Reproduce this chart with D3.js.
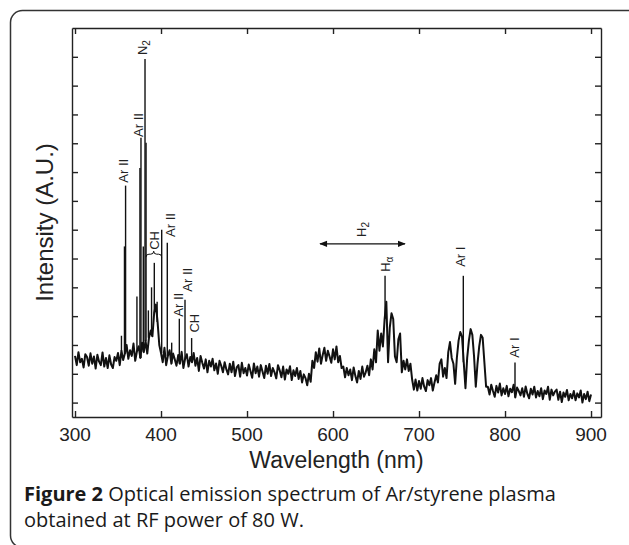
<!DOCTYPE html>
<html>
<head>
<meta charset="utf-8">
<script src="https://cdn.jsdelivr.net/npm/d3@7"></script>
<style>
  body { margin: 0; background: #fff; }
  .tick-label { font-family: "Liberation Sans", Arial, sans-serif; font-size: 19px; fill: #222; }
  .axis-title { font-family: "Liberation Sans", Arial, sans-serif; font-size: 23px; fill: #222; }
  .peak-label { font-family: "Liberation Sans", Arial, sans-serif; font-size: 13px; fill: #222; }
  .caption { font-family: "Open Sans", "Noto Sans", sans-serif; font-size: 20px; fill: #1a1a1a; }
</style>
</head>
<body>
<div id="main"></div>
<script>
// spectrum sampled every 2 nm from 300 nm (intensity, A.U.)
var startWl = 300;
var stepWl = 2;
var intensity = [
  1.62,1.30,1.75,1.40,1.52,1.22,1.68,1.58,1.28,1.71,
  1.35,1.60,1.18,1.66,1.42,1.30,1.74,1.25,1.55,1.20,
  1.64,1.32,1.20,1.58,1.45,1.72,1.30,1.80,1.48,1.70,
  2.00,1.52,1.82,1.62,2.05,1.45,1.78,1.95,1.55,2.08,
  1.75,2.15,1.70,2.25,2.50,2.30,3.10,3.40,2.80,2.00,
  1.72,1.40,1.90,1.30,1.62,1.82,1.35,1.70,1.50,1.28,
  1.65,1.35,1.76,1.20,1.52,1.68,1.25,1.58,1.40,1.72,
  1.28,1.55,1.10,1.62,1.38,1.18,1.50,1.05,1.45,1.25,
  1.52,1.12,1.36,1.00,1.45,1.28,1.05,1.40,1.15,0.98,
  1.35,1.05,1.42,0.92,1.22,1.30,0.90,1.38,1.02,1.20,
  0.94,1.32,1.10,0.86,1.36,1.02,1.25,0.90,1.30,1.08,
  0.85,1.28,1.00,1.34,0.92,1.20,1.05,0.84,1.30,1.12,
  0.88,1.25,0.80,1.15,1.00,1.26,0.78,1.12,0.92,1.20,
  0.82,1.10,0.70,0.98,0.85,0.60,1.00,0.72,1.45,1.20,
  1.75,1.42,1.88,1.35,1.65,1.90,1.45,1.80,1.60,1.38,
  1.85,1.50,1.95,1.40,1.62,1.20,1.25,0.88,1.20,0.95,
  1.15,0.78,1.22,0.92,0.70,1.10,0.82,1.25,0.90,1.05,
  1.28,0.95,1.50,1.15,1.85,1.40,2.50,1.80,2.40,1.95,
  2.90,3.50,1.40,2.60,3.10,2.90,1.60,1.40,2.20,2.40,
  1.05,1.45,1.15,1.50,1.10,1.35,0.80,0.45,0.80,0.42,
  0.75,0.48,0.85,0.55,0.40,0.78,0.60,0.85,0.42,0.70,
  0.95,0.70,1.35,1.50,0.90,1.20,0.85,1.75,2.10,1.55,
  1.35,0.65,1.55,2.15,2.45,2.30,1.40,0.50,1.55,2.15,
  2.55,2.35,1.60,0.55,1.35,1.95,2.35,2.25,1.40,0.55,
  0.55,0.28,0.62,0.40,0.20,0.58,0.35,0.66,0.25,0.50,
  0.30,0.58,0.22,0.48,0.36,0.62,0.18,0.52,0.40,0.25,
  0.50,0.20,0.56,0.30,0.15,0.48,0.28,0.55,0.18,0.40,
  0.22,0.50,0.12,0.42,0.30,0.55,0.10,0.45,0.25,0.38,
  0.45,0.10,0.38,0.02,0.35,0.20,0.44,0.08,0.30,0.15,
  0.40,0.08,0.32,0.18,0.42,0.00,0.30,0.12,0.38,0.05,
  0.28
];

// sharp emission lines
var peakWl = [354, 357.5, 358.8, 372, 375.5, 376.7, 379.4, 381.4, 382.6, 385.3, 389, 392.2, 395.5, 400.8, 407.3, 412.4, 421.3, 427.9, 435.6, 660.5, 751.5, 811.6];
var peakInt = [2.32, 5.42, 7.53, 3.68, 8.14, 9.19, 5.42, 11.92, 9.02, 3.2, 4.0, 4.85, 3.5, 6.0, 5.55, 2.08, 2.91, 3.57, 2.24, 4.40, 4.40, 1.39];

// line labels (text, subscript, wavelength, intensity at the foot of the text)
var labelText = ['Ar II', 'Ar II', 'N', 'CH', 'Ar II', 'Ar II', 'Ar II', 'CH', 'H', 'H', 'Ar I', 'Ar I'];
var labelSub = ['', '', '2', '', '', '', '', '', '2', '\u03b1', '', ''];
var labelWl = [356.4, 373.3, 379, 392, 411.6, 419.8, 430.8, 438.4, 633.7, 660.5, 748.8, 811];
var labelInt = [7.63, 9.22, 12.06, 5.3, 5.75, 2.98, 3.85, 2.43, 5.75, 4.54, 4.71, 1.56];

// CH brace and H2 band arrow
var braceWl = [382.5, 391.5, 400.8];
var braceInt = 5.15;
var arrowWl = [584.9, 683.7];
var arrowInt = 5.51;

var xTicks = [300, 400, 500, 600, 700, 800, 900];
var yTicks = d3.range(0, 13);

// layout
var svgWidth = 629;
var svgHeight = 545;
var plot = { l: 72, t: 28, w: 529, h: 389 };

var svg = d3.select('#main')
  .append('svg')
  .attr('width', svgWidth)
  .attr('height', svgHeight);

// rounded figure box
svg.append('rect')
  .attr('x', 10.5)
  .attr('y', 10.5)
  .attr('width', 640)
  .attr('height', 537)
  .attr('rx', 12)
  .attr('fill', 'none')
  .attr('stroke', '#333')
  .attr('stroke-width', 1.5);

var chartG = svg.append('g')
  .attr('transform', 'translate(' + [plot.l, plot.t] + ')');

var xScale = d3.scaleLinear()
  .domain([296.5, 911.6])
  .range([0, plot.w]);

var yScale = d3.scaleLinear()
  .domain([-0.5, 13])
  .range([plot.h, 0]);

// axes, ticks pointing inward on all four sides
chartG.append('g')
  .attr('transform', 'translate(0,' + plot.h + ')')
  .call(d3.axisBottom(xScale).tickValues(xTicks).tickSizeInner(-6).tickSizeOuter(0).tickFormat(''));
chartG.append('g')
  .call(d3.axisTop(xScale).tickValues(xTicks).tickSizeInner(-6).tickSizeOuter(0).tickFormat(''));
chartG.append('g')
  .call(d3.axisLeft(yScale).tickValues(yTicks).tickSizeInner(-6).tickSizeOuter(0).tickFormat(''));
chartG.append('g')
  .attr('transform', 'translate(' + plot.w + ',0)')
  .call(d3.axisRight(yScale).tickValues(yTicks).tickSizeInner(-6).tickSizeOuter(0).tickFormat(''));

chartG.selectAll('.domain, .tick line')
  .attr('stroke', '#222')
  .attr('stroke-width', 1.4);

// x tick labels
chartG.selectAll('.x-label')
  .data(xTicks)
  .enter()
  .append('text')
  .attr('class', 'tick-label')
  .attr('x', (d) => xScale(d))
  .attr('y', plot.h + 24)
  .attr('text-anchor', 'middle')
  .text((d) => d);

// axis titles
svg.append('text')
  .attr('class', 'axis-title')
  .attr('x', plot.l + plot.w / 2)
  .attr('y', 468)
  .attr('text-anchor', 'middle')
  .text('Wavelength (nm)');

svg.append('text')
  .attr('class', 'axis-title')
  .attr('transform', 'translate(' + [53, plot.t + plot.h / 2] + ') rotate(-90)')
  .attr('text-anchor', 'middle')
  .style('font-size', '24px')
  .text('Intensity (A.U.)');

// continuum spectrum, drawn heavy so the noise reads as a dense band
var spectrum = intensity.map((v, i) => [startWl + i * stepWl, v]);

chartG.append('path')
  .datum(spectrum)
  .attr('fill', 'none')
  .attr('stroke', '#111')
  .attr('stroke-width', 2)
  .attr('stroke-linejoin', 'round')
  .attr('d', d3.line().x((d) => xScale(d[0])).y((d) => yScale(d[1])));

// emission lines rise from the continuum
function baseAt(wl) {
  var i = Math.round((wl - startWl) / stepWl);
  return intensity[Math.max(0, Math.min(intensity.length - 1, i))];
}

chartG.selectAll('.peak')
  .data(peakWl)
  .enter()
  .append('line')
  .attr('class', 'peak')
  .attr('x1', (d) => xScale(d))
  .attr('x2', (d) => xScale(d))
  .attr('y1', (d) => yScale(baseAt(d)))
  .attr('y2', (d, i) => yScale(peakInt[i]))
  .attr('stroke', '#111')
  .attr('stroke-width', 1.4);

// rotated line labels
labelText.forEach((t, i) => {
  var label = chartG.append('text')
    .attr('class', 'peak-label')
    .attr('transform', 'translate(' + [xScale(labelWl[i]) + 4.5, yScale(labelInt[i])] + ') rotate(-90)')
    .text(t);
  if (labelSub[i]) {
    label.append('tspan')
      .attr('dy', 3)
      .style('font-size', '10px')
      .text(labelSub[i]);
  }
});

// CH brace
var bx = braceWl.map((d) => xScale(d));
var by = yScale(braceInt);
chartG.append('path')
  .attr('fill', 'none')
  .attr('stroke', '#111')
  .attr('stroke-width', 1)
  .attr('d', 'M' + bx[0] + ',' + (by + 3) + ' Q' + bx[0] + ',' + by + ' ' + (bx[0] + 3) + ',' + by +
    ' L' + (bx[1] - 3) + ',' + by + ' Q' + bx[1] + ',' + by + ' ' + bx[1] + ',' + (by - 3) +
    ' Q' + bx[1] + ',' + by + ' ' + (bx[1] + 3) + ',' + by +
    ' L' + (bx[2] - 3) + ',' + by + ' Q' + bx[2] + ',' + by + ' ' + bx[2] + ',' + (by + 3));

// H2 band double arrow
svg.append('defs').append('marker')
  .attr('id', 'head')
  .attr('viewBox', '0 0 10 10')
  .attr('refX', 9)
  .attr('refY', 5)
  .attr('markerWidth', 7)
  .attr('markerHeight', 6)
  .attr('orient', 'auto-start-reverse')
  .append('path')
  .attr('d', 'M0,1 L10,5 L0,9 Z')
  .attr('fill', '#111');

chartG.append('line')
  .attr('x1', xScale(arrowWl[0]))
  .attr('x2', xScale(arrowWl[1]))
  .attr('y1', yScale(arrowInt))
  .attr('y2', yScale(arrowInt))
  .attr('stroke', '#111')
  .attr('stroke-width', 1.3)
  .attr('marker-start', 'url(#head)')
  .attr('marker-end', 'url(#head)');

// caption
var cap1 = svg.append('text')
  .attr('class', 'caption')
  .attr('x', 24)
  .attr('y', 501);
cap1.append('tspan').style('font-weight', 'bold').text('Figure 2');
cap1.append('tspan').text(' Optical emission spectrum of Ar/styrene plasma');

svg.append('text')
  .attr('class', 'caption')
  .attr('x', 24)
  .attr('y', 527)
  .text('obtained at RF power of 80 W.');
</script>
</body>
</html>
